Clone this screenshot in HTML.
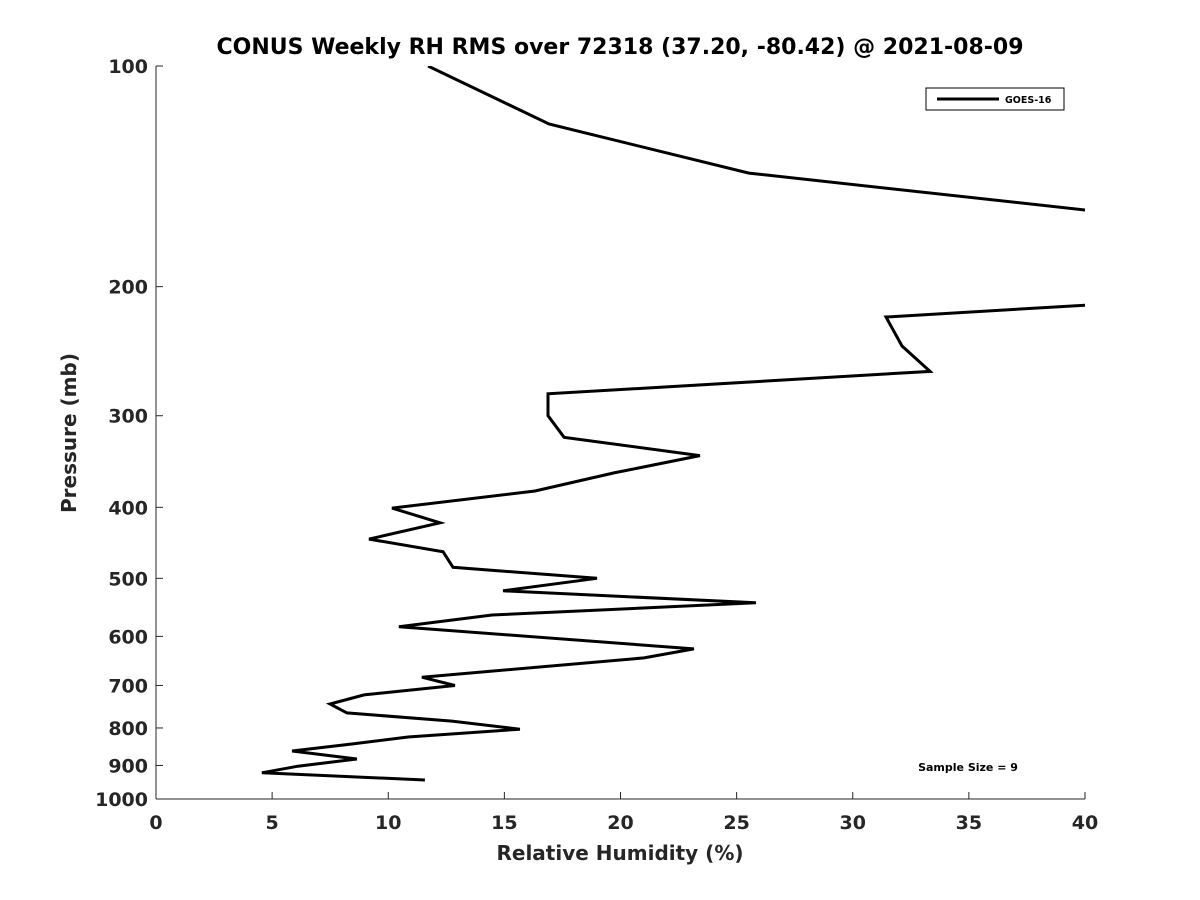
<!DOCTYPE html>
<html><head><meta charset="utf-8"><style>
html,body{margin:0;padding:0;background:#fff;}
svg{display:block;font-family:"DejaVu Sans","Liberation Sans",sans-serif;}
</style></head><body>
<svg id="chart" width="1200" height="900">
<defs><clipPath id="plotclip"><rect x="156" y="66" width="929" height="733"/></clipPath></defs>
<text x="620" y="54" text-anchor="middle" font-size="22" font-weight="bold">CONUS Weekly RH RMS over 72318 (37.20, -80.42) @ 2021-08-09</text>
<g id="xaxis"></g>
<g id="yaxis"></g>
<text x="620" y="860" text-anchor="middle" font-size="20" font-weight="bold" fill="#262626">Relative Humidity (%)</text>
<text transform="translate(76,433) rotate(-90)" text-anchor="middle" font-size="20" font-weight="bold" fill="#262626">Pressure (mb)</text>
<g clip-path="url(#plotclip)"><path id="series" fill="none" stroke="#000" stroke-width="3" stroke-linejoin="miter"/></g>
<g>
<rect x="926" y="88" width="138" height="22" fill="#fff" stroke="#000" stroke-width="1"/>
<line x1="937" y1="99" x2="999" y2="99" stroke="#000" stroke-width="3"/>
<text x="1005" y="103" font-size="9.5" font-weight="bold">GOES-16</text>
</g>
<text x="968" y="771" text-anchor="middle" font-size="11" font-weight="bold">Sample Size = 9</text>
</svg>
<script>
const pressures = [100,120,140,160,200,212,220,241,261,280,300,321,340,359,380,401,420,442,460,483,500,520,540,561,582,624,642,682,700,721,742,763,783,803,823,841,860,882,902,921,942];
const rhValues = [11.71,16.92,25.53,42.2,53,40,31.43,32.12,33.33,16.88,16.88,17.57,23.42,19.72,16.32,10.16,12.23,9.17,12.36,12.79,18.99,14.94,25.83,14.47,10.46,23.16,21.01,11.45,12.87,8.96,7.49,8.22,12.74,15.67,10.85,8.48,5.86,8.65,6.11,4.56,11.58];
const xTicks = [0,5,10,15,20,25,30,35,40];
const yTicks = [100,200,300,400,500,600,700,800,900,1000];
const X0=156,X1=1085,Y0=66,Y1=799;
function xs(v){return X0+(v-0)/(40-0)*(X1-X0);}
function ys(p){return Y0+(Math.log10(p)-2)/(3-2)*(Y1-Y0);}
const NS="http://www.w3.org/2000/svg";
const xa=document.getElementById('xaxis'), ya=document.getElementById('yaxis');
function mk(tag,attrs,parent){const e=document.createElementNS(NS,tag);for(const k in attrs)e.setAttribute(k,attrs[k]);parent.appendChild(e);return e;}
const xl=mk('line',{x1:X0,y1:Y1,x2:X1,y2:Y1,stroke:'#262626','stroke-width':1},xa);


const yl=mk('line',{x1:X0,y1:Y0,x2:X0,y2:Y1,stroke:'#262626','stroke-width':1},ya);


xTicks.forEach(t=>{
  const x=xs(t);
  const tk=mk('line',{x1:x,y1:Y1,x2:x,y2:Y1-7,stroke:'#262626','stroke-width':1},xa);
  
  
  const tx=mk('text',{x:x,y:Y1+30,'text-anchor':'middle','font-size':19,'font-weight':'bold',fill:'#262626'},xa);
  tx.textContent=t;
  
  
});
yTicks.forEach(t=>{
  const y=ys(t);
  const tk=mk('line',{x1:X0,y1:y,x2:X0+7,y2:y,stroke:'#262626','stroke-width':1},ya);
  
  
  const tx=mk('text',{x:X0-8,y:y+7,'text-anchor':'end','font-size':19,'font-weight':'bold',fill:'#262626'},ya);
  tx.textContent=t;
  
  
});
let d='';
pressures.forEach((p,i)=>{d+=(i?'L':'M')+xs(rhValues[i]).toFixed(1)+','+ys(p).toFixed(1);});
document.getElementById('series').setAttribute('d',d);
</script>
</body></html>
